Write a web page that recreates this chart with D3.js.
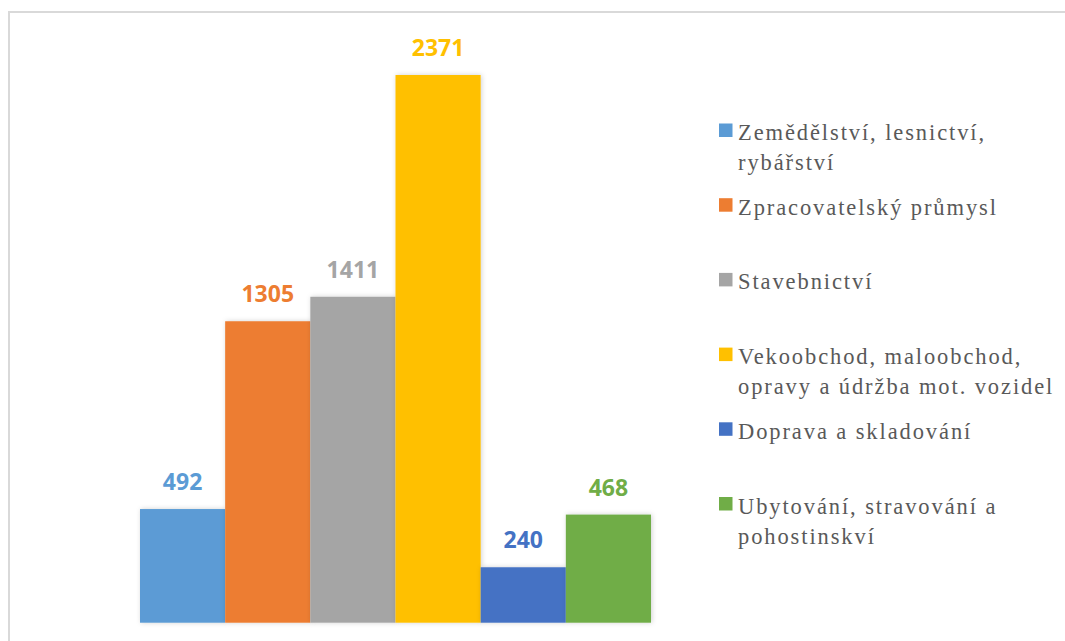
<!DOCTYPE html>
<html>
<head>
<meta charset="utf-8">
<script src="https://cdn.jsdelivr.net/npm/d3@7"></script>
<style>
  body { margin: 0; background: #fff; }
  svg { display: block; }
  .legend-text { font-family: "Liberation Serif", "Times New Roman", Tinos, "Noto Serif", "DejaVu Serif", serif; }
</style>
</head>
<body>
<svg></svg>
<script>
const width = 1065;
const height = 641;

// data
const categories = [
    "Zemědělství, lesnictví, rybářství",
    "Zpracovatelský průmysl",
    "Stavebnictví",
    "Vekoobchod, maloobchod, opravy a údržba mot. vozidel",
    "Doprava a skladování",
    "Ubytování, stravování a pohostinskví"
];
const values = [492, 1305, 1411, 2371, 240, 468];
const colors = ["#5B9BD5", "#ED7D31", "#A5A5A5", "#FFC000", "#4472C4", "#70AD47"];
// legend lines as they wrap in the picture
const legendLines = [
    ["Zemědělství, lesnictví,", "rybářství"],
    ["Zpracovatelský průmysl"],
    ["Stavebnictví"],
    ["Vekoobchod, maloobchod,", "opravy a údržba mot. vozidel"],
    ["Doprava a skladování"],
    ["Ubytování, stravování a", "pohostinskví"]
];

const svg = d3.select("svg")
    .attr("width", width)
    .attr("height", height);

// frame (only top and left edges are visible)
svg.append("rect")
    .attr("x", 9)
    .attr("y", 12)
    .attr("width", width + 20)
    .attr("height", height + 20)
    .attr("fill", "none")
    .attr("stroke", "#d9d9d9")
    .attr("stroke-width", 2);

const defs = svg.append("defs");
const shadow = defs.append("filter")
    .attr("id", "shadow")
    .attr("x", "-20%").attr("y", "-20%")
    .attr("width", "140%").attr("height", "140%");
shadow.append("feDropShadow")
    .attr("dx", 1).attr("dy", 0)
    .attr("stdDeviation", 2.5)
    .attr("flood-color", "#000")
    .attr("flood-opacity", 0.18);

const xScale = d3.scaleBand()
    .domain(categories)
    .range([140, 651])
    .paddingInner(0)
    .paddingOuter(0);

const yScale = d3.scaleLinear()
    .domain([0, 2371])
    .range([622.7, 75]);

svg.append("g")
    .selectAll("rect")
    .data(values)
    .enter()
    .append("rect")
    .attr("x", (d, i) => xScale(categories[i]))
    .attr("y", d => yScale(d))
    .attr("width", xScale.bandwidth())
    .attr("height", d => yScale(0) - yScale(d))
    .attr("fill", (d, i) => colors[i])
    .attr("filter", "url(#shadow)");

svg.append("g")
    .selectAll("text")
    .data(values)
    .enter()
    .append("text")
    .attr("x", (d, i) => xScale(categories[i]) + xScale.bandwidth() / 2)
    .attr("y", d => yScale(d) - 19)
    .attr("text-anchor", "middle")
    .attr("font-family", "'Noto Sans', sans-serif")
    .attr("font-weight", "bold")
    .attr("font-size", 23)
    .attr("fill", (d, i) => colors[i])
    .text(d => d);

// legend
const legend = svg.append("g");
const legendTop = 140;
const legendStep = 74.7;

const items = legend.selectAll("g")
    .data(categories)
    .enter()
    .append("g")
    .attr("transform", (d, i) => "translate(719," + (legendTop + i * legendStep) + ")");

items.append("rect")
    .attr("x", 0)
    .attr("y", -16.5)
    .attr("width", 13.5)
    .attr("height", 13.5)
    .attr("fill", (d, i) => colors[i]);

items.each(function (d, i) {
    const t = d3.select(this).append("text")
        .attr("class", "legend-text")
        .attr("font-size", 22.5)
        .attr("fill", "#595959");
    legendLines[i].forEach((line, j) => {
        t.append("tspan")
            .attr("x", 19)
            .attr("y", j * 30)
            .text(line);
    });
});

// Word spreads the legend text a little; stretch the widest line to the picture's width
const probe = items.filter((d, i) => i === 1).select("text").node();
const wanted = 258;
const got = probe.getComputedTextLength();
const spacing = (wanted - got) / ("Zpracovatelský průmysl".length - 1);
legend.selectAll("text").attr("letter-spacing", spacing.toFixed(2));
</script>
</body>
</html>
